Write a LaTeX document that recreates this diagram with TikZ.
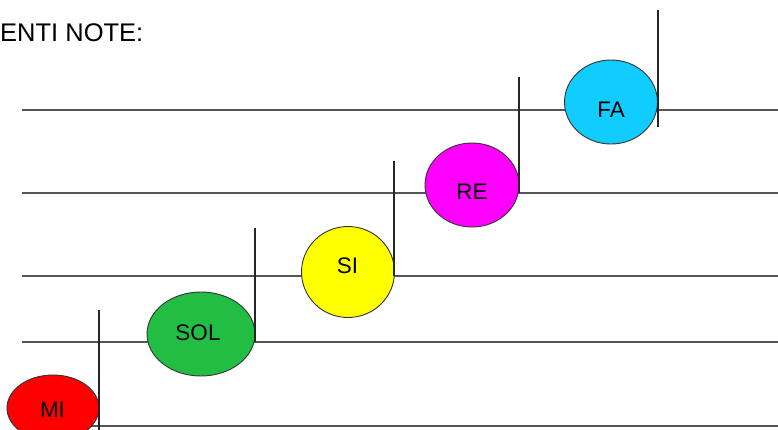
\documentclass[tikz,border=0pt]{standalone}
\usepackage{fontspec}
\setmainfont{Liberation Sans}
\usetikzlibrary{shapes.geometric}
\definecolor{staffgray}{RGB}{85,85,85}
\definecolor{nred}{RGB}{255,0,0}
\definecolor{ngreen}{RGB}{34,190,68}
\definecolor{nyellow}{RGB}{255,255,0}
\definecolor{nmagenta}{RGB}{255,0,255}
\definecolor{ncyan}{RGB}{17,204,255}
\tikzset{
  staffline/.style={draw=staffgray, line width=1.5pt},
  notehead/.style={ellipse, draw=black!80, line width=0.9pt, inner sep=0pt},
  stemline/.style={draw=black!85, line width=1.5pt},
  notelabel/.style={font=\fontsize{22.5}{24}\selectfont, inner sep=0pt, anchor=base},
  titletext/.style={font=\fontsize{25.5}{28}\selectfont, inner sep=0pt, anchor=base west}
}
\begin{document}
\begin{tikzpicture}[x=1pt,y=-1pt]
\useasboundingbox (0,0) rectangle (778,430);
% staff lines
\foreach \n/\yy in {a/110,b/193,c/276,d/342,e/426}{
  \coordinate (\n L) at (22,\yy);
  \coordinate (\n R) at (778,\yy);
  \draw[staffline] (\n L) -- (\n R);
}
% title
\node[titletext] (title) at (0,42) {ENTI NOTE:};
% note heads
\node[notehead, fill=nred, minimum width=92pt, minimum height=66pt] (mi) at (53,408) {};
\node[notehead, fill=ngreen, minimum width=108pt, minimum height=84pt] (sol) at (201,334) {};
\node[notehead, fill=nyellow, minimum width=93pt, minimum height=91pt] (si) at (348,272) {};
\node[notehead, fill=nmagenta, minimum width=94pt, minimum height=84pt] (re) at (472,185) {};
\node[notehead, fill=ncyan, minimum width=93pt, minimum height=84pt] (fa) at (611,102) {};
% labels
\node[notelabel] (mit) at (52.5,417) {MI};
\node[notelabel] (solt) at (198,340) {SOL};
\node[notelabel] (sit) at (347.5,273) {SI};
\node[notelabel] (ret) at (472,200) {RE};
\node[notelabel] (fat) at (611,118) {FA};
% stem ends
\coordinate (mitop) at (99,310);
\coordinate (mibot) at (99,430);
\coordinate (soltop) at (255,228);
\coordinate (solbot) at (255,342);
\coordinate (sitop) at (394,161);
\coordinate (sibot) at (394,276);
\coordinate (retop) at (519,77);
\coordinate (rebot) at (519,193);
\coordinate (fatop) at (658,10);
\coordinate (fabot) at (658,127);
\draw[stemline] (mitop) -- (mibot);
\draw[stemline] (soltop) -- (solbot);
\draw[stemline] (sitop) -- (sibot);
\draw[stemline] (retop) -- (rebot);
\draw[stemline] (fatop) -- (fabot);
\end{tikzpicture}
\end{document}
